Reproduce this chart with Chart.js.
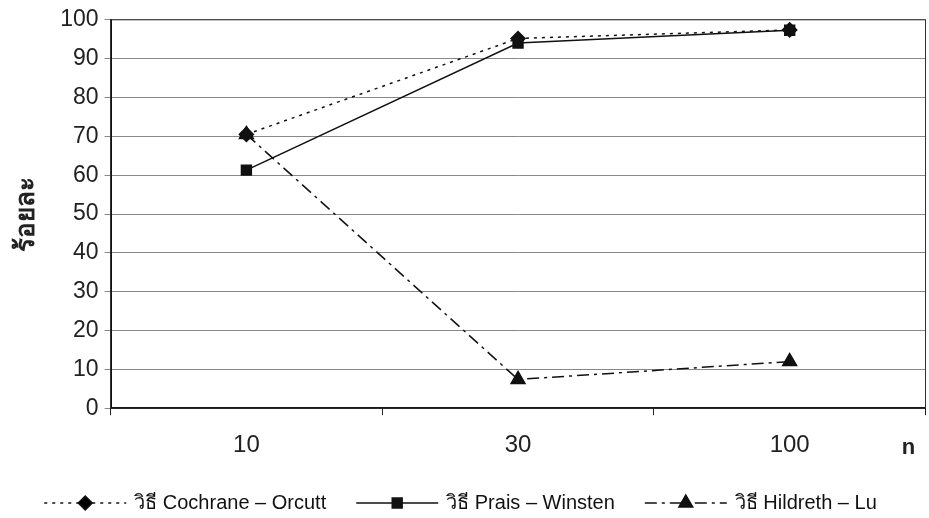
<!DOCTYPE html>
<html>
<head>
<meta charset="utf-8">
<script src="https://cdn.jsdelivr.net/npm/chart.js@4"></script>
<style>
  html, body { margin: 0; padding: 0; background: white; overflow: hidden; }
  #wrap { width: 935px; height: 518px; }
</style>
</head>
<body>
<div id="wrap"><canvas id="chart"></canvas></div>
<script>
const sampleSizes = ["10", "30", "100"];
const cochraneOrcutt = [70.5, 95.2, 97.4];
const praisWinsten = [61.3, 94.0, 97.3];
const hildrethLu = [70.5, 7.4, 12.0];

const seriesNames = [
  "วิธี Cochrane – Orcutt",
  "วิธี Prais – Winsten",
  "วิธี Hildreth – Lu",
];

const FONT = "'Liberation Sans', Arial, 'Noto Sans', sans-serif";

// frame around plot area + the "n" label beside the x ticks
const framePlugin = {
  id: "frame",
  beforeDatasetsDraw(chart) {
    const { ctx, chartArea } = chart;
    ctx.save();
    ctx.strokeStyle = "#333";
    ctx.lineWidth = 1;
    ctx.strokeRect(chartArea.left, chartArea.top, chartArea.right - chartArea.left, chartArea.bottom - chartArea.top);
    ctx.restore();
  },
  afterDraw(chart) {
    const { ctx, chartArea } = chart;
    ctx.save();
    ctx.fillStyle = "#222";
    ctx.font = "bold 22px " + FONT;
    ctx.textAlign = "center";
    ctx.textBaseline = "middle";
    ctx.fillText("n", chartArea.right - 17, chartArea.bottom + 40);
    ctx.restore();
  },
};

// legend with line samples (dash style + marker) drawn at the bottom
const lineLegend = {
  id: "lineLegend",
  afterDraw(chart) {
    const { ctx } = chart;
    const sampleW = 82, gapText = 8, gapItem = 30;
    ctx.save();
    ctx.font = "20px " + FONT;
    const widths = chart.data.datasets.map((d) => sampleW + gapText + ctx.measureText(d.label).width);
    const total = widths.reduce((a, b) => a + b, 0) + gapItem * (widths.length - 1);
    let x = (929 - total) / 2 - 4;
    const y = chart.height - 15;
    chart.data.datasets.forEach((d, i) => {
      ctx.strokeStyle = d.borderColor;
      ctx.lineWidth = d.borderWidth;
      ctx.setLineDash(d.borderDash || []);
      ctx.beginPath();
      ctx.moveTo(x, y);
      ctx.lineTo(x + sampleW, y);
      ctx.stroke();
      ctx.setLineDash([]);
      Chart.helpers.drawPoint(ctx, {
        pointStyle: d.pointStyle,
        radius: d.pointRadius,
        rotation: 0,
        borderWidth: 1,
      }, x + sampleW / 2, y);
      ctx.fillStyle = "#111";
      ctx.textBaseline = "middle";
      ctx.fillText(d.label, x + sampleW + gapText, y);
      x += widths[i] + gapItem;
    });
    ctx.restore();
  },
};

function series(label, data, dash, style, radius, order) {
  return {
    label,
    data,
    order,
    borderColor: "#111",
    backgroundColor: "#111",
    pointBackgroundColor: "#111",
    pointBorderColor: "#111",
    borderWidth: 1.5,
    borderDash: dash,
    pointStyle: style,
    pointRadius: radius,
    pointHoverRadius: radius,
    tension: 0,
  };
}

new Chart(document.getElementById("chart"), {
  type: "line",
  data: {
    labels: sampleSizes,
    datasets: [
      series(seriesNames[0], cochraneOrcutt, [3, 5], "rectRot", 7, 2),
      series(seriesNames[1], praisWinsten, [], "rect", 7, 1),
      series(seriesNames[2], hildrethLu, [12, 5, 3, 5], "triangle", 8, 0),
    ],
  },
  options: {
    responsive: true,
    maintainAspectRatio: false,
    animation: false,
    layout: { padding: { top: 10, right: 0, left: 7, bottom: 42 } },
    plugins: {
      legend: { display: false },
      tooltip: { enabled: false },
    },
    scales: {
      x: {
        offset: true,
        grid: {
          offset: true,
          drawOnChartArea: false,
          drawTicks: true,
          tickLength: 7,
          color: "#222",
        },
        border: { color: "#111", width: 2 },
        ticks: {
          color: "#222",
          padding: 16,
          font: { family: FONT, size: 24 },
        },
      },
      y: {
        min: 0,
        max: 100,
        ticks: {
          stepSize: 10,
          color: "#222",
          padding: 6,
          font: { family: FONT, size: 23 },
        },
        grid: {
          color: "#888",
          tickLength: 6,
        },
        border: { color: "#111", width: 2 },
        title: {
          display: true,
          text: "ร้อยละ",
          color: "#222",
          font: { family: FONT, size: 26, weight: "bold" },
          padding: { bottom: 12 },
        },
      },
    },
  },
  plugins: [framePlugin, lineLegend],
});
</script>
</body>
</html>
